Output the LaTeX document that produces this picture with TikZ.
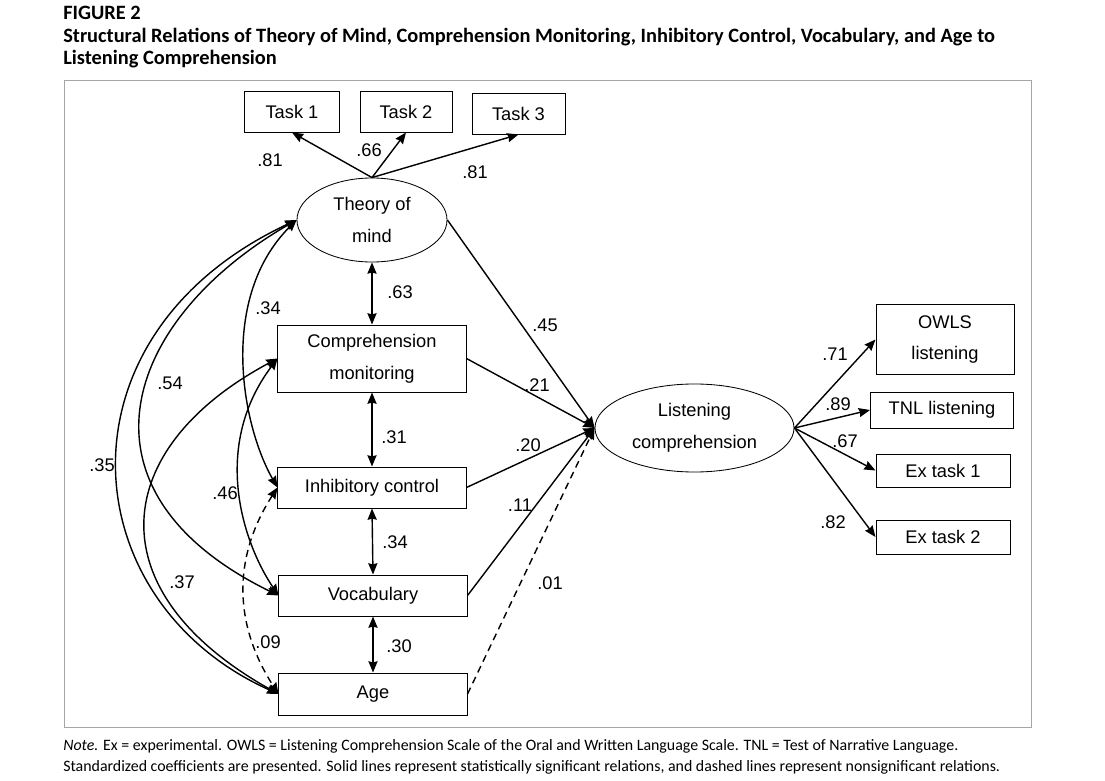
\documentclass[tikz,border=0pt]{standalone}
\usepackage{fontspec}
\setmainfont{Liberation Sans}
\newfontfamily\capfont{Carlito}
\usetikzlibrary{arrows.meta,shapes.geometric}

\tikzset{
  box/.style={draw,line width=0.7pt,inner sep=0pt,align=center,font=\fontsize{13}{22.7}\selectfont},
  oval/.style={draw,ellipse,line width=0.6pt,inner sep=0pt,align=center,font=\fontsize{13}{22.7}\selectfont},
  coef/.style={inner sep=0pt,font=\fontsize{13}{15}\selectfont},
  eff/.style={line width=1pt,-{Stealth[length=8pt,width=6.5pt,inset=0.8pt]}},
  cov/.style={line width=1pt,{Stealth[length=8pt,width=6.5pt,inset=0.8pt]}-{Stealth[length=8pt,width=6.5pt,inset=0.8pt]}},
  ns/.style={dash pattern=on 5pt off 3.5pt},
  txt/.style={anchor=base west,inner sep=0pt}
}

\begin{document}
\begin{tikzpicture}[x=0.025cm,y=-0.025cm]
\useasboundingbox (0,0) rectangle (1105,781);
% caption
\node[txt,font=\capfont\bfseries\fontsize{14.5}{16}\selectfont] (fig) at (63,20) {FIGURE 2};
\node[txt,font=\capfont\bfseries\fontsize{14.5}{16}\selectfont] (ttl1) at (63,43) {Structural Relations of Theory of Mind, Comprehension Monitoring, Inhibitory Control, Vocabulary, and Age to};
\node[txt,font=\capfont\bfseries\fontsize{14.5}{16}\selectfont] (ttl2) at (63,65) {Listening Comprehension};
\draw[gray!70,line width=0.7pt] (64,80) rectangle (1031,727);

% measured variables and factors
\node[box,minimum width=2.35cm,minimum height=1.025cm] (t1) at (292,111.5) {Task 1};
\node[box,minimum width=2.3cm,minimum height=1.025cm] (t2) at (406,111.5) {Task 2};
\node[box,minimum width=2.325cm,minimum height=1.025cm] (t3) at (518.5,113.5) {Task 3};
\node[oval,minimum width=3.75cm,minimum height=2.1cm] (tom) at (372,220) {Theory of\\mind};
\node[box,minimum width=4.7cm,minimum height=1.675cm] (cm) at (372,358.5) {Comprehension\\monitoring};
\node[box,minimum width=4.7cm,minimum height=1.025cm] (ic) at (372,487.5) {Inhibitory control};
\node[box,minimum width=4.7cm,minimum height=1.025cm] (voc) at (373,595.5) {Vocabulary};
\node[box,minimum width=4.7cm,minimum height=1.05cm] (age) at (373,694) {Age};
\node[oval,minimum width=4.975cm,minimum height=2.2cm] (lc) at (694.5,428) {Listening\\comprehension};
\node[box,minimum width=3.45cm,minimum height=1.725cm] (owls) at (945,339.5) {OWLS\\listening};
\node[box,minimum width=3.575cm,minimum height=0.9cm] (tnl) at (942,410) {TNL listening};
\node[box,minimum width=3.35cm,minimum height=0.825cm] (ex1) at (943,470.5) {Ex task 1};
\node[box,minimum width=3.35cm,minimum height=0.85cm] (ex2) at (943,537) {Ex task 2};

% loadings
\draw[eff] (tom.north) -- (t1.south);
\draw[eff] (tom.north) -- (t2.south);
\draw[eff] (tom.north) -- (t3.south);
\draw[eff] (lc.east) -- (owls.west);
\draw[eff] (lc.east) -- (tnl.west);
\draw[eff] (lc.east) -- (ex1.west);
\draw[eff] (lc.east) -- (ex2.west);

% paths to listening comprehension
\draw[eff] (tom.east) -- (lc.west);
\draw[eff] (cm.east) -- (lc.west);
\draw[eff] (ic.east) -- (lc.west);
\draw[eff] (voc.east) -- (lc.west);
\draw[eff,ns] (age.east) -- (lc.west);

% correlations
\draw[cov] (tom.south) -- (cm.north);
\draw[cov] (cm.south) -- (ic.north);
\draw[cov] (ic.south) -- (voc.north);
\draw[cov] (voc.south) -- (age.north);
\draw[cov] (tom.west) .. controls +(-246,115) and +(-207,-93) .. (age.west);
\draw[cov] (tom.west) .. controls +(-173,100) and +(-214,-105) .. (voc.west);
\draw[cov] (tom.west) .. controls +(-78,78) and +(-36,-63) .. (ic.west);
\draw[cov] (cm.west) .. controls +(-168,90) and +(-184,-103) .. (age.west);
\draw[cov] (cm.west) .. controls +(-67,89) and +(-35,-52) .. (voc.west);
\draw[cov,ns] (ic.west) .. controls +(-45,70) and +(-45,-70) .. (age.west);

% coefficients
\node[coef] (k1) at (270,160) {.81};
\node[coef] (k2) at (369,150) {.66};
\node[coef] (k3) at (475,172) {.81};
\node[coef] (k4) at (400,292) {.63};
\node[coef] (k5) at (394,437) {.31};
\node[coef] (k6) at (395,542) {.34};
\node[coef] (k7) at (399,646) {.30};
\node[coef] (k8) at (268,308) {.34};
\node[coef] (k9) at (170,383) {.54};
\node[coef] (k10) at (102,465) {.35};
\node[coef] (k11) at (225,493) {.46};
\node[coef] (k12) at (182,582) {.37};
\node[coef] (k13) at (268,642) {.09};
\node[coef] (k14) at (545,325) {.45};
\node[coef] (k15) at (537,385) {.21};
\node[coef] (k16) at (528,445) {.20};
\node[coef] (k17) at (520,505) {.11};
\node[coef] (k18) at (550,583) {.01};
\node[coef] (k19) at (835,354) {.71};
\node[coef] (k20) at (838,404) {.89};
\node[coef] (k21) at (845,441) {.67};
\node[coef] (k22) at (833,522) {.82};

% note
\node[txt,font=\capfont\fontsize{11.3}{13}\selectfont] (note1) at (63,750) {\textit{Note.} Ex = experimental. OWLS = Listening Comprehension Scale of the Oral and Written Language Scale. TNL = Test of Narrative Language.};
\node[txt,font=\capfont\fontsize{11.3}{13}\selectfont] (note2) at (63,771) {Standardized coefficients are presented. Solid lines represent statistically significant relations, and dashed lines represent nonsignificant relations.};
\end{tikzpicture}
\end{document}
